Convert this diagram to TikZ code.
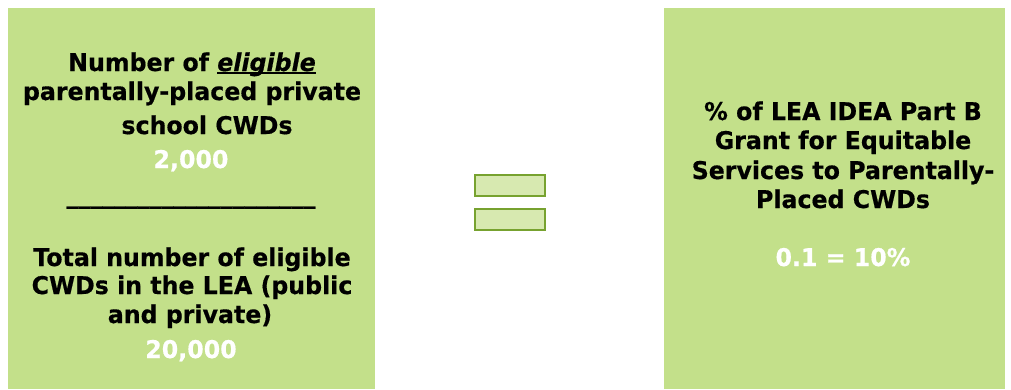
\documentclass[tikz,border=0pt]{standalone}
\usepackage{fontspec}
\setmainfont{DejaVu Sans}[FakeStretch=0.97,BoldFeatures={FakeBold=0.5},BoldItalicFeatures={FakeBold=0.5}]
\definecolor{boxgreen}{HTML}{C3E08A}
\definecolor{eqfill}{HTML}{D7E9B0}
\definecolor{eqdraw}{HTML}{77A22F}
\newcommand\thickul[1]{\setbox0\hbox{#1}\rlap{\rule[-3bp]{\wd0}{2.2bp}}\box0}
\begin{document}
\begin{tikzpicture}[x=1bp,y=-1bp,
  panel/.style={fill=boxgreen,draw=none},
  eqbar/.style={fill=eqfill,draw=eqdraw,line width=2bp},
  blk/.style={font=\fontsize{24.4bp}{28bp}\selectfont\bfseries,text=black,inner sep=0pt,anchor=base},
  wht/.style={font=\fontsize{24.4bp}{28bp}\selectfont\bfseries,text=white,inner sep=0pt,anchor=base}]
\useasboundingbox (0,0) rectangle (1011,389);
\fill[white] (0,0) rectangle (1011,389);
\path[panel] (8,8) rectangle (375,389);
\path[panel] (664,8) rectangle (1005,389);
\path[eqbar] (475,175) rectangle (545,196);
\path[eqbar] (475,209) rectangle (545,230);
% left top
\node[blk] (l1) at (192,71) {Number of \thickul{\textit{eligible}}};
\node[blk] (l2) at (192,100) {parentally-placed private};
\node[blk] (l3) at (207,134) {school CWDs};
\node[wht] (l4) at (191,168) {2,000};
\node[blk] (bar) at (191,203) {\_\_\_\_\_\_\_\_\_\_\_\_\_\_\_\_\_\_\_\_\_};
% left bottom
\node[blk] (b1) at (192,266) {Total number of eligible};
\node[blk] (b2) at (192,294) {CWDs in the LEA (public};
\node[blk] (b3) at (190,323) {and private)};
\node[wht] (b4) at (191,358) {20,000};
% right
\node[blk] (r1) at (843,120) {\% of LEA IDEA Part B};
\node[blk] (r2) at (843,149) {Grant for Equitable};
\node[blk] (r3) at (843,179) {Services to Parentally-};
\node[blk] (r4) at (843,208) {Placed CWDs};
\node[wht] (r5) at (843,266) {0.1 = 10\%};
\end{tikzpicture}
\end{document}
